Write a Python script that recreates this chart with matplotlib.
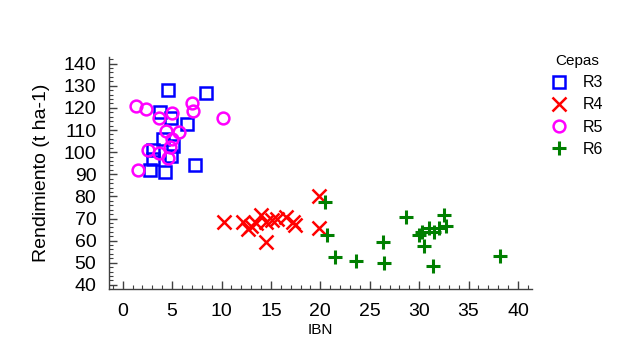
import matplotlib
matplotlib.use("Agg")
import matplotlib.pyplot as plt
from matplotlib.ticker import MultipleLocator

plt.rcParams['font.family'] = ['Liberation Sans', 'DejaVu Sans']

r3_x = [4.6, 8.4, 3.8, 4.9, 6.5, 4.1, 5.1, 3.1, 4.9, 3.1, 7.3, 2.8, 4.3]
r3_y = [128.0, 126.6, 118.1, 115.3, 112.9, 106.0, 102.9, 101.0, 98.4, 96.9, 94.1, 92.0, 91.1]

r4_x = [19.9, 19.9, 10.3, 12.2, 12.7, 14.0, 13.5, 14.5, 15.1, 15.6, 16.5, 17.2, 17.4, 14.5, 13.0]
r4_y = [80.0, 65.7, 68.2, 68.2, 65.2, 71.7, 67.9, 68.2, 69.4, 69.7, 70.9, 68.2, 67.1, 59.6, 66.4]

r5_x = [1.3, 2.4, 7.0, 7.1, 3.7, 5.0, 10.2, 4.4, 5.7, 5.0, 4.8, 2.6, 3.7, 4.6, 1.5]
r5_y = [120.7, 119.5, 122.2, 118.4, 115.4, 117.7, 115.3, 109.4, 109.1, 106.0, 102.3, 101.0, 99.6, 97.3, 91.7]

r6_x = [20.5, 20.7, 21.5, 23.6, 26.3, 26.4, 28.7, 30.0, 30.5, 31.0, 31.5, 32.0, 32.5, 32.7, 31.4, 38.2, 30.3]
r6_y = [77.3, 62.6, 52.5, 51.0, 59.3, 50.1, 70.6, 62.6, 57.6, 65.7, 63.7, 65.7, 71.7, 66.7, 48.6, 53.1, 63.7]

labels = ["R3", "R4", "R5", "R6"]

fig = plt.figure(figsize=(6.22, 3.54), dpi=100)
ax = fig.add_axes([0.175, 0.184, 0.68, 0.655])

ms = 9
lw = 1.8
ax.plot(r3_x, r3_y, ls='none', marker='s', ms=ms, mfc='none', mec='#0000ff', mew=lw, label=labels[0])
ax.plot(r4_x, r4_y, ls='none', marker='x', ms=ms + 1, mec='#ff0000', mew=lw, label=labels[1])
ax.plot(r5_x, r5_y, ls='none', marker='o', ms=ms - 0.5, mfc='none', mec='#ff00ff', mew=lw, label=labels[2])
ax.plot(r6_x, r6_y, ls='none', marker='+', ms=ms + 1, mec='#007f00', mew=lw + 0.4, label=labels[3])

ax.set_xlim(-1.4, 41.4)
ax.set_ylim(38.2, 143)
ax.xaxis.set_major_locator(MultipleLocator(5))
ax.xaxis.set_minor_locator(MultipleLocator(1))
ax.yaxis.set_major_locator(MultipleLocator(10))
ax.yaxis.set_minor_locator(MultipleLocator(2))

for s in ['top', 'right']:
    ax.spines[s].set_visible(False)
for s in ['left', 'bottom']:
    ax.spines[s].set_color('#404040')
    ax.spines[s].set_linewidth(1.0)

ax.tick_params(which='major', direction='in', length=6, width=1.0, color='#404040', labelsize=14)
ax.tick_params(axis='x', which='major', pad=10)
ax.tick_params(axis='y', which='major', pad=9)
ax.tick_params(which='minor', direction='in', length=3, width=0.8, color='#404040')

ax.set_xlabel('IBN', fontsize=11, labelpad=2)
ax.set_ylabel('Rendimiento (t ha-1)', fontsize=14, labelpad=10)

leg = ax.legend(title='Cepas', loc='upper left', bbox_to_anchor=(1.03, 1.04), frameon=False,
                fontsize=11.5, title_fontsize=11, handlelength=1.0, handletextpad=1.0,
                labelspacing=0.45, borderaxespad=0)

fig.savefig('out.png', dpi=100)
